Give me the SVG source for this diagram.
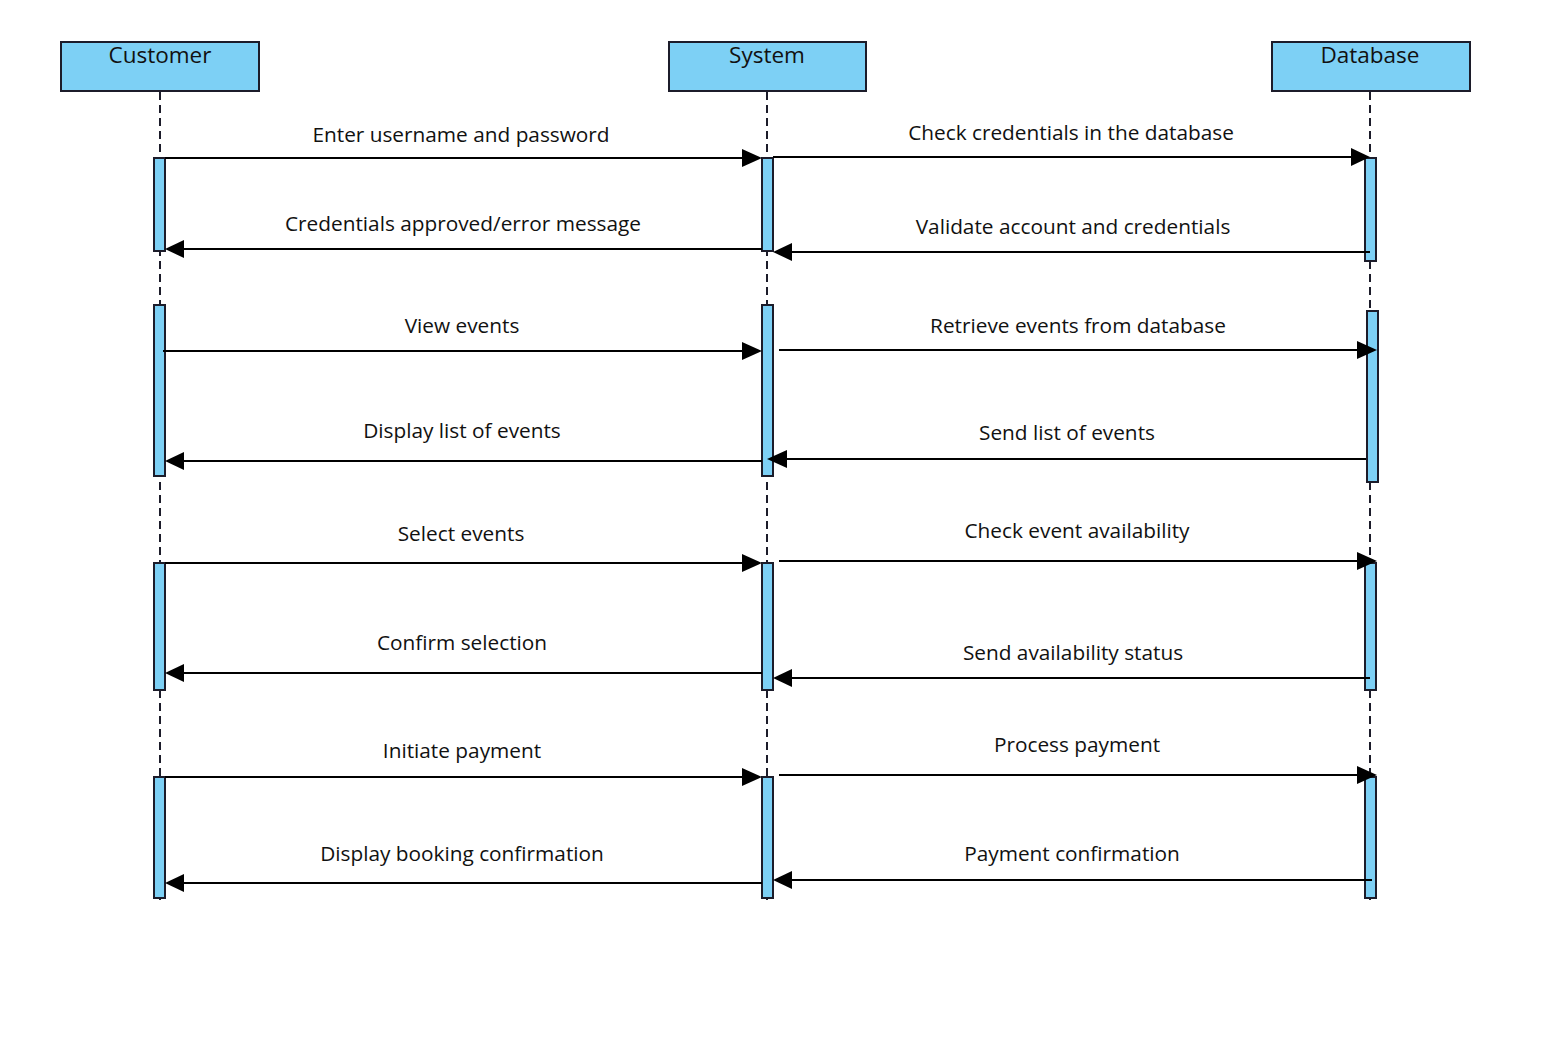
<svg xmlns="http://www.w3.org/2000/svg" width="1548" height="1064" viewBox="0 0 1548 1064">
<defs>
<style>
.head{fill:#7dd0f5;stroke:#1c1c2a;stroke-width:2}
.act{fill:#7dd0f5;stroke:#1c1c2a;stroke-width:2}
.life{stroke:#1c1c2a;stroke-width:2;stroke-dasharray:8,5;fill:none}
.msg{stroke:#000;stroke-width:2;fill:none}
.ht{font-family:"Open Sans","Liberation Sans",sans-serif;font-size:22.5px;fill:#111;text-anchor:middle}
.lt{font-family:"Open Sans","Liberation Sans",sans-serif;font-size:20.8px;fill:#111;text-anchor:middle}
</style>
</defs>
<rect width="1548" height="1064" fill="#ffffff"/>
<g id="lifelines">
<line class="life" x1="160" y1="92" x2="160" y2="900"/>
<line class="life" x1="767" y1="92" x2="767" y2="900"/>
<line class="life" x1="1370" y1="92" x2="1370" y2="900"/>
</g>
<g id="customer">
<rect class="head" x="61" y="42" width="198" height="49"/>
<text class="ht" x="160" y="63">Customer</text>
<rect class="act" x="154" y="158" width="11" height="93"/>
<rect class="act" x="154" y="305" width="11" height="171"/>
<rect class="act" x="154" y="563" width="11" height="127"/>
<rect class="act" x="154" y="777" width="11" height="121"/>
</g>
<g id="system">
<rect class="head" x="669" y="42" width="197" height="49"/>
<text class="ht" x="767" y="63">System</text>
<rect class="act" x="762" y="158" width="11" height="93"/>
<rect class="act" x="762" y="305" width="11" height="171"/>
<rect class="act" x="762" y="563" width="11" height="127"/>
<rect class="act" x="762" y="777" width="11" height="121"/>
</g>
<g id="database">
<rect class="head" x="1272" y="42" width="198" height="49"/>
<text class="ht" x="1370" y="63">Database</text>
<rect class="act" x="1365" y="158" width="11" height="103"/>
<rect class="act" x="1367" y="311" width="11" height="171"/>
<rect class="act" x="1365" y="563" width="11" height="127"/>
<rect class="act" x="1365" y="777" width="11" height="121"/>
</g>
<g id="connectors">
<line class="msg" x1="165" y1="158" x2="745" y2="158"/><polygon points="762,158 742,149 742,167"/>
<line class="msg" x1="773" y1="157" x2="1353" y2="157"/><polygon points="1370,157 1351,148 1351,166"/>
<line class="msg" x1="762" y1="249" x2="182" y2="249"/><polygon points="165,249 184,240 184,258"/>
<line class="msg" x1="1370" y1="252" x2="790" y2="252"/><polygon points="773,252 792,243 792,261"/>
<line class="msg" x1="163" y1="351" x2="745" y2="351"/><polygon points="762,351 742,342 742,360"/>
<line class="msg" x1="779" y1="350" x2="1360" y2="350"/><polygon points="1377,350 1357,341 1357,359"/>
<line class="msg" x1="762" y1="461" x2="182" y2="461"/><polygon points="165,461 184,452 184,470"/>
<line class="msg" x1="1366" y1="459" x2="784" y2="459"/><polygon points="767,459 787,450 787,468"/>
<line class="msg" x1="165" y1="563" x2="745" y2="563"/><polygon points="762,563 742,554 742,572"/>
<line class="msg" x1="779" y1="561" x2="1360" y2="561"/><polygon points="1377,561 1357,552 1357,570"/>
<line class="msg" x1="762" y1="673" x2="182" y2="673"/><polygon points="165,673 184,664 184,682"/>
<line class="msg" x1="1370" y1="678" x2="790" y2="678"/><polygon points="773,678 792,669 792,687"/>
<line class="msg" x1="165" y1="777" x2="745" y2="777"/><polygon points="762,777 742,768 742,786"/>
<line class="msg" x1="779" y1="775" x2="1360" y2="775"/><polygon points="1377,775 1357,766 1357,784"/>
<line class="msg" x1="762" y1="883" x2="182" y2="883"/><polygon points="165,883 184,874 184,892"/>
<line class="msg" x1="1372" y1="880" x2="790" y2="880"/><polygon points="773,880 792,871 792,889"/>
</g>
<g id="labels">
<text class="lt" x="461" y="142">Enter username and password</text>
<text class="lt" x="1071" y="140">Check credentials in the database</text>
<text class="lt" x="463" y="231">Credentials approved/error message</text>
<text class="lt" x="1073" y="234">Validate account and credentials</text>
<text class="lt" x="462" y="333">View events</text>
<text class="lt" x="1078" y="333">Retrieve events from database</text>
<text class="lt" x="462" y="438">Display list of events</text>
<text class="lt" x="1067" y="440">Send list of events</text>
<text class="lt" x="461" y="541">Select events</text>
<text class="lt" x="1077" y="538">Check event availability</text>
<text class="lt" x="462" y="650">Confirm selection</text>
<text class="lt" x="1073" y="660">Send availability status</text>
<text class="lt" x="462" y="758">Initiate payment</text>
<text class="lt" x="1077" y="752">Process payment</text>
<text class="lt" x="462" y="861">Display booking confirmation</text>
<text class="lt" x="1072" y="861">Payment confirmation</text>
</g>
</svg>
